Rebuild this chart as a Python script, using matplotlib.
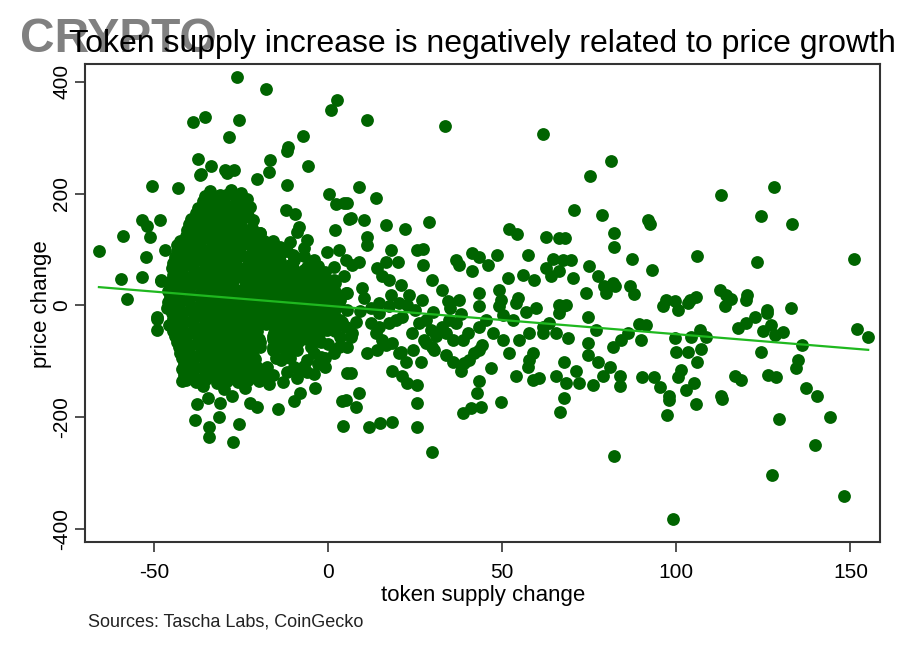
import matplotlib.pyplot as plt
import numpy as np

plt.rcParams['font.family'] = ['Liberation Sans', 'DejaVu Sans']
plt.rcParams['axes.unicode_minus'] = False

# scattered points (token supply change %, price change %)
outer_x = [-26.2, -18.0, 2.4, 0.7, -38.9, -35.3, -25.7, -28.4, -7.2, -11.6, -11.8, -37.4, -33.6, -36.5,
           -16.8, -17.0, -5.9, -29.6, -27.2, -20.4, -11.8, -50.6, -43.1, 0.2, 2.1, 4.5, 5.9, -59.1,
           -65.9, -53.4, -52.1, -51.2, -48.3, -52.5, -46.9, -43.5, -59.6, -53.5, -48.1, -57.9, -12.1,
           -9.6, -8.3, -8.9, -11.0, -6.0, -7.0, 1.8, -0.3, 3.0, -21.9, -19.5, -29.0, -36.8, -49.3, -48.2]
outer_y = [409, 387, 368, 349, 329, 338, 331, 301, 304, 283, 276, 262, 250, 235,
           261, 238, 250, 243, 243, 226, 215, 214, 210, 200, 182, 183, 154, 125,
           98, 153, 142, 123, 153, 86, 99, 108, 47, 50, 43, 12, 171,
           164, 141, 132, 114, 117, 102, 135, 96, 99, 135, 129, 237, 234, -20, 45]

near_x = [-17.6, -13.7, -9.9, -6.0, -2.2, -15.7, -11.8, -8.0, -4.1, -0.3, -13.7, -9.9, -17.6, -4.1, 1.6,
          -6.0, 1.6, 4.5, 1.6, 5.5, 3.5,
          -17.6, -13.7, -9.9, -6.0, -2.2, 1.6, 5.5, -15.7, -11.8, -8.0, -4.1, -0.3, 3.5, -13.7, -9.9,
          -6.0, -2.2, 1.6, -17.6, -19.5, -15.0, -11.0, -7.0, -3.0, 1.0, -16.0, -12.0, -5.0, 0.0, -1.0, -6.0]
near_y = [105, 93, 81, 69, 58, 69, 52, 34, 22, 10, 22, 10, 34, 81, 46,
          22, 69, 52, 28, 22, 10,
          -2, -14, -2, -14, -2, -14, -8, -50, -62, -50, -56, -44, -56, -98, -110,
          -98, -92, -86, -110, -74, -30, -35, -30, -25, -30, -80, -85, -75, -70, -110, -120]

fringe_x = [-16, -14, -12, -10, -15, -11, -7, -3, -1, -14, -10, -6, -2, 2, -16, -12, -8, -3, 1, -15,
            -11, -7, -4, 0, 3, -16, -12, -8, -4, 0, 4, -14, -10, -6, -2, 2, -16, -13, -9, -4, -1, 3,
            -15, -11, -7, -3, -16, -12, -8]
fringe_y = [115, 105, 98, 90, 80, 72, 88, 70, 60, 58, 45, 40, 35, 40, 45, 30, 20, 12, 18, 10,
            0, 5, -5, 0, -2, -20, -22, -20, -38, -20, -30, -40, -45, -60, -65, -45, -60, -70, -80, -85, -95, -75,
            -95, -95, -108, -105, -125, -120, -118]

# right shoulder of the dense cluster
shoulder_x = [-16, -13, -10, -7, -4,
              -14.5, -11.5, -8.5, -5.5, -2.5,
              -16, -13, -10, -7, -4, -1,
              -14.5, -11.5, -8.5, -5.5, -2.5, 0.5,
              -16, -13, -10, -7, -4, -1, 2,
              -14.5, -11.5, -8.5, -5.5, -2.5, 0.5,
              -16, -13, -10, -7, -4, -1, 2,
              -14.5, -11.5, -8.5, -5.5, -2.5, 0.5,
              -16, -13, -10, -7, -4, -1,
              -14.5, -11.5, -8.5, -5.5, -2.5, 0.5, 3.5,
              -16, -13, -10, -7, -4, -1,
              -14.5, -11.5, -8.5, -5.5, -2.5,
              -16, -13, -10, -7,
              -14.5, -11.5, -8.5,
              -16, -13,
              -17, -15, -18, -16, -14]
shoulder_y = [65, 63, 67, 64, 62,
              55, 53, 57, 54, 52,
              45, 43, 47, 44, 42, 46,
              35, 33, 37, 34, 32, 36,
              25, 23, 27, 24, 22, 26, 24,
              15, 13, 17, 14, 12, 16,
              5, 3, 7, 4, 2, 6, 4,
              -5, -7, -3, -6, -8, -4,
              -15, -17, -13, -16, -18, -14,
              -25, -27, -23, -26, -28, -24, -26,
              -35, -37, -33, -36, -38, -34,
              -45, -47, -43, -46, -48,
              -55, -57, -53, -56,
              -65, -67, -63,
              -75, -77,
              85, 95, 105, 112, 80]

low_x = [-49.2, -49.2, -46.2, -45.9, -42.5, -42.0, -41.6, -42.0, -37.7, -34.7, -31.2, -27.6, -38.2,
         -34.4, -34.4, -31.5, -25.7, -27.5, -22.4, -20.4, -14.4, -9.9, -8.2, -3.9, 4.0, 4.2, 5.5,
         -36.0, -30.0, -24.0, -17.0, -13.0, -9.0, -4.0]
low_y = [-25, -44, -5, -35, -68, -86, -110, -136, -177, -166, -174, -163, -205,
         -218, -235, -199, -213, -245, -175, -181, -185, -171, -157, -148, -172, -216, -121,
         -145, -150, -148, -140, -138, -130, -122]

mid_x = [11.2, 33.5, 61.7, 81.3, 75.2, 8.8, 13.6, 5.5, 6.4, 10.2, 16.5, 22.0, 28.8, 11.2, 11.2, 52.0,
         54.1, 70.6, 78.7, 62.6, 66.4, 68.1, 82.2, 82.2, 17.9, 25.6, 27.2, 57.3, 36.6, 41.4, 43.3,
         48.6, 45.8, 37.6, 41.4, 27.2, 6.9, 8.8, 5.0, 14.1, 16.5, 19.9, 15.5, 17.4, 64.5, 67.4, 69.7,
         62.6, 66.4, 70.2, 74.8, 77.4, 63.9, 51.7, 55.8, 59.2, 29.9, 32.8, 20.8, 9.8, 10.2, 5.0, 43.3,
         49.1, 49.6, 54.4, 74.1, 79.8, 79.3, 81.7, 23.2, 27.0, 34.3, 37.6, 17.9, 14.6, 66.4, 68.3]
mid_y = [331, 321, 306, 259, 231, 212, 192, 183, 156, 153, 144, 136, 150, 123, 108, 136,
         128, 170, 162, 123, 120, 120, 129, 104, 99, 99, 101, 90, 81, 93, 87,
         90, 72, 72, 62, 72, 72, 78, 81, 67, 78, 78, 52, 46, 83, 81, 81,
         67, 61, 49, 71, 52, 52, 49, 55, 46, 46, 28, 37, 31, 13, 22, 22,
         28, 10, 13, 22, 22, 34, 40, 19, 10, 7, 10, 19, 4, 1, 1]

neg_x = [7.9, 6.4, 5.5, 6.4, 8.8, 7.9, 5.0, 11.7, 14.9, 18.4, 25.4, 25.4, 29.7, 18.4, 21.3, 22.7, 25.6,
         11.2, 14.1, 16.5, 20.3, 22.3, 26.6, 28.0, 30.4, 33.8, 35.7, 38.1, 39.0, 40.5, 41.9, 43.3, 44.3,
         46.7, 43.3, 42.7, 38.6, 41.0, 43.8, 49.6, 53.9, 57.3, 58.7, 57.7, 58.7, 60.4, 47.2, 50.1, 52.0,
         54.9, 57.7, 61.6, 65.4, 68.8, 74.6, 77.0, 74.6, 74.6, 77.4, 80.8, 81.8, 67.8, 65.4, 68.3, 71.2,
         72.1, 76.0, 78.9, 67.8, 66.7, 82.2,
         12.2, 14.6, 17.4, 20.3, 22.7, 12.2, 14.6, 17.4, 19.4, 21.3, 13.6, 15.5, 18.4, 20.8, 24.2, 26.1,
         28.0, 29.4, 27.5, 29.9, 32.8, 34.7, 36.6, 33.8, 35.7, 38.6, 40.0, 43.3, 45.3, 43.3, 49.1, 50.1,
         53.0, 53.9, 56.8, 59.7, 5.0, 6.9, 67.4, 66.4, 61.6, 63.5, 9.0, 25.0, 30.0, 35.0, 38.0, 24.0, 31.0]
neg_y = [-29, -56, -74, -121, -157, -182, -169, -218, -211, -208, -175, -217, -262, -118, -127, -139, -142,
         -86, -80, -71, -86, -101, -101, -68, -80, -89, -101, -118, -104, -98, -86, -80, -71,
         -112, -136, -156, -193, -184, -181, -173, -127, -110, -86, -98, -133, -130, -50, -62, -86,
         -62, -50, -50, -50, -59, -20, -44, -67, -89, -101, -110, -74, -101, -127, -139, -118,
         -139, -142, -127, -165, -191, -269,
         -5, -14, -2, 4, 1, -32, -38, -32, -26, -20, -50, -62, -68, -83, -80, -32,
         -26, -44, -62, -74, -38, -26, -32, -50, -62, -62, -50, -38, -26, -2, -2, -17,
         -26, 4, -11, -5, -38, -50, -2, -14, -38, -32, -10, -8, -12, -5, -15, -50, -55]

right_x = [112.9, 128.0, 124.2, 133.3, 91.8, 92.3, 87.3, 93.0, 105.9, 123.3, 151.0, 82.4, 86.8, 87.8,
           97.1, 99.5, 96.1, 103.8, 105.7, 112.4, 114.4, 115.6, 120.4, 125.9, 132.8, 113.9,
           100.5, 103.3, 120.1, 89.4, 91.3, 86.1, 84.1, 89.9, 99.5, 104.3, 106.7, 108.6, 100.0, 103.3,
           107.2, 106.0, 101.2, 100.5, 105.2, 102.9, 105.7, 112.9, 113.1, 97.8, 98.0, 97.4, 90.1, 93.5,
           95.4, 83.7, 83.7, 99.0, 117.7, 120.1, 122.7, 125.9, 124.9, 127.3, 128.3, 130.7, 124.4, 136.0,
           134.8, 134.3, 116.8, 118.5, 126.2, 128.5, 137.2, 140.3, 144.1, 129.5, 139.8, 127.6, 148.1,
           152.0, 155.1]
right_y = [198, 211, 160, 145, 153, 146, 83, 64, 89, 78, 83, 35, 34, 21,
           10, 7, -2, 9, 15, 28, 19, 11, 18, -8, -5, -2,
           -8, 4, 10, -33, -35, -50, -62, -62, -59, -57, -44, -56, -84, -84,
           -78, -101, -115, -129, -139, -151, -177, -163, -168, -163, -169, -196, -129, -129,
           -146, -127, -144, -382, -41, -31, -20, -14, -45, -35, -53, -47, -84, -71,
           -98, -112, -127, -133, -124, -129, -148, -163, -200, -204, -249, -303, -341,
           -43, -57]

# the dense core around -30% supply change
core_x = [-34, -31, -28, -25,
          -36, -33, -30, -27, -24,
          -38, -35, -32, -29, -26, -23,
          -40, -37, -34, -31, -28, -25, -22,
          -41, -38, -35, -32, -29, -26, -23, -20,
          -43, -40, -37, -34, -31, -28, -25, -22, -19,
          -44, -41, -38, -35, -32, -29, -26, -23, -20,
          -45, -42, -39, -36, -33, -30, -27, -24, -21, -18,
          -45, -42, -39, -36, -33, -30, -27, -24, -21, -18, -15,
          -46, -43, -40, -37, -34, -31, -28, -25, -22, -19, -16,
          -46, -43, -40, -37, -34, -31, -28, -25, -22, -19,
          -45, -42, -39, -36, -33, -30, -27, -24, -21, -18,
          -45, -42, -39, -36, -33, -30, -27, -24, -21, -18,
          -44, -41, -38, -35, -32, -29, -26, -23, -20,
          -43, -40, -37, -34, -31, -28, -25, -22,
          -42, -39, -36, -33, -30, -27, -24, -21,
          -42, -39, -36, -33, -30, -27, -24, -21, -18,
          -41, -38, -35, -32, -29, -26, -23, -20]
core_y = [205, 198, 207, 201,
          186, 182, 188, 180, 184,
          166, 163, 168, 161, 165, 160,
          146, 143, 148, 141, 147, 144, 139,
          125, 128, 122, 127, 124, 121, 126, 120,
          106, 103, 108, 101, 105, 102, 107, 104, 100,
          86, 83, 88, 81, 85, 82, 87, 84, 80,
          66, 63, 68, 61, 65, 62, 67, 64, 60, 66,
          46, 43, 48, 41, 45, 42, 47, 44, 40, 46, 43,
          26, 23, 28, 21, 25, 22, 27, 24, 20, 26, 23,
          6, 3, 8, 1, 5, 2, 7, 4, 0, 6,
          -14, -17, -12, -19, -15, -18, -13, -16, -20, -14,
          -34, -37, -32, -39, -35, -38, -33, -36, -40, -34,
          -54, -57, -52, -59, -55, -58, -53, -56, -60,
          -74, -77, -72, -79, -75, -78, -73, -76,
          -94, -97, -92, -99, -95, -98, -93, -96,
          -114, -117, -112, -119, -115, -118, -113, -116, -120,
          -134, -137, -132, -139, -135, -138, -133, -136]

core2_x = [-35.5, -32.5, -29.5, -26.5, -23.5,
           -37.5, -34.5, -31.5, -28.5, -25.5, -22.5,
           -39.5, -36.5, -33.5, -30.5, -27.5, -24.5, -21.5,
           -40.5, -37.5, -34.5, -31.5, -28.5, -25.5, -22.5, -19.5,
           -42.5, -39.5, -36.5, -33.5, -30.5, -27.5, -24.5, -21.5, -18.5,
           -43.5, -40.5, -37.5, -34.5, -31.5, -28.5, -25.5, -22.5, -19.5,
           -44.5, -41.5, -38.5, -35.5, -32.5, -29.5, -26.5, -23.5, -20.5, -17.5,
           -44.5, -41.5, -38.5, -35.5, -32.5, -29.5, -26.5, -23.5, -20.5, -17.5,
           -45.5, -42.5, -39.5, -36.5, -33.5, -30.5, -27.5, -24.5, -21.5, -18.5, -15.5,
           -45.5, -42.5, -39.5, -36.5, -33.5, -30.5, -27.5, -24.5, -21.5, -18.5,
           -45.5, -42.5, -39.5, -36.5, -33.5, -30.5, -27.5, -24.5, -21.5, -18.5,
           -44.5, -41.5, -38.5, -35.5, -32.5, -29.5, -26.5, -23.5, -20.5, -17.5,
           -44.5, -41.5, -38.5, -35.5, -32.5, -29.5, -26.5, -23.5, -20.5,
           -43.5, -40.5, -37.5, -34.5, -31.5, -28.5, -25.5, -22.5, -19.5,
           -42.5, -39.5, -36.5, -33.5, -30.5, -27.5, -24.5, -21.5,
           -41.5, -38.5, -35.5, -32.5, -29.5, -26.5, -23.5, -20.5,
           -41.5, -38.5, -35.5, -32.5, -29.5, -26.5, -23.5, -20.5, -17.5]
core2_y = [195, 192, 197, 194, 190,
           175, 172, 177, 174, 171, 176,
           155, 152, 157, 154, 151, 156, 153,
           135, 132, 137, 134, 131, 136, 133, 130,
           115, 112, 117, 114, 111, 116, 113, 110, 115,
           95, 92, 97, 94, 91, 96, 93, 90, 95,
           75, 72, 77, 74, 71, 76, 73, 70, 75, 72,
           55, 52, 57, 54, 51, 56, 53, 50, 55, 52,
           35, 32, 37, 34, 31, 36, 33, 30, 35, 32, 34,
           15, 12, 17, 14, 11, 16, 13, 10, 15, 12,
           -5, -8, -3, -6, -9, -4, -7, -10, -5, -8,
           -25, -28, -23, -26, -29, -24, -27, -30, -25, -28,
           -45, -48, -43, -46, -49, -44, -47, -50, -45,
           -65, -68, -63, -66, -69, -64, -67, -70, -65,
           -85, -88, -83, -86, -89, -84, -87, -90,
           -105, -108, -103, -106, -109, -104, -107, -110,
           -125, -128, -123, -126, -129, -124, -127, -130, -125]

# fitted line
trend_intercept = -0.8
trend_slope = -0.508

supply = np.array(outer_x + near_x + fringe_x + shoulder_x + low_x + mid_x + neg_x + right_x
                  + core_x + core2_x, dtype=float)
price = np.array(outer_y + near_y + fringe_y + shoulder_y + low_y + mid_y + neg_y + right_y
                 + core_y + core2_y, dtype=float)

fig = plt.figure(figsize=(9, 6.52), dpi=100)
ax = fig.add_axes([85 / 900, 1 - 542 / 652, 795 / 900, 478 / 652])

ax.scatter(supply, price, s=85, color='#006400', linewidths=0, zorder=2)

xs = np.array([supply.min(), supply.max()])
ax.plot(xs, trend_intercept + trend_slope * xs, color='#1fb81f', linewidth=1.6, zorder=3)

ax.set_xlim(-69.9, 158.5)
ax.set_ylim(-423.5, 432)
ax.set_xticks([-50, 0, 50, 100, 150])
ax.set_yticks([-400, -200, 0, 200, 400])
ax.tick_params(direction='out', length=7, width=1.2, color='#333333', labelsize=15)
ax.tick_params(axis='x', pad=8)
ax.tick_params(axis='y', pad=3)
for lab in ax.get_yticklabels():
    lab.set_rotation(90)
    lab.set_va('center')
for sp in ax.spines.values():
    sp.set_color('#333333')
    sp.set_linewidth(1.5)

fig.text(483 / 900, 1 - 595 / 652, 'token supply change', ha='center', va='center', fontsize=16)
fig.text(41 / 900, 1 - 304 / 652, 'price change', ha='center', va='center', rotation=90, fontsize=16)

fig.text(20 / 900, 1 - 40 / 652, 'CRYPTO', ha='left', va='center', fontsize=34.5,
         fontweight='bold', color='#808080', zorder=1)
fig.text(482 / 900, 1 - 44 / 652, 'Token supply increase is negatively related to price growth',
         ha='center', va='center', fontsize=23, color='black', zorder=2)
fig.text(88 / 900, 1 - 622 / 652, 'Sources: Tascha Labs, CoinGecko', ha='left', va='center',
         fontsize=13, color='#222222')

fig.savefig('out.png', dpi=100)
